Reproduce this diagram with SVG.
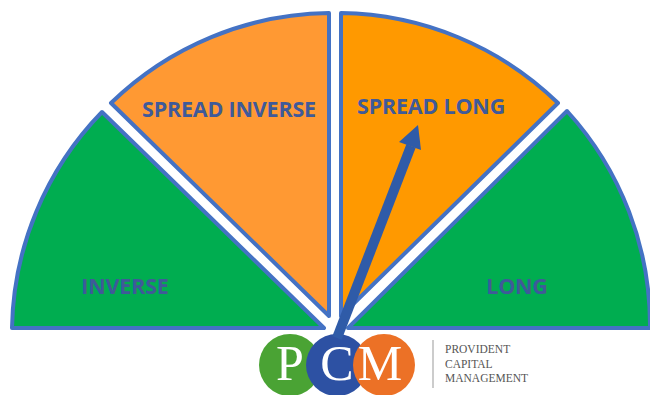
<svg xmlns="http://www.w3.org/2000/svg" width="650" height="395" viewBox="0 0 650 395">
<style>
.w{stroke:#4472c4;stroke-width:4;stroke-linejoin:round}
.l{font-family:"Open Sans","Liberation Sans",sans-serif;font-weight:700;font-size:21.500px;letter-spacing:-.2px;fill:#3f5a99;text-anchor:middle}
.b{font-family:"Liberation Serif",serif;font-size:50px;fill:#fff;text-anchor:middle}
.s{font-family:"Liberation Serif",serif;font-size:11.500px;fill:#555}
</style>
<rect width="650" height="395" fill="#fff"/>
<g id="inverse"><path class="w" fill="#00ad50" d="M12 328A318 318 0 0 1 102 112L324 328Z"/><text class="l" x="125" y="294">INVERSE</text></g>
<g id="spread-inverse"><path class="w" fill="#ff9933" d="M111 103A318 318 0 0 1 329 13V316Z"/><text class="l" x="229" y="117">SPREAD INVERSE</text></g>
<g id="spread-long"><path class="w" fill="#ff9900" d="M341 13A318 318 0 0 1 558 103L341 316Z"/><text class="l" x="431" y="114">SPREAD LONG</text></g>
<g id="long"><path class="w" fill="#00ad50" d="M567 111A318 318 0 0 1 650 328H348Z"/><text class="l" x="517" y="294">LONG</text></g>
<g id="logo">
<circle cx="290" cy="365" r="31" fill="#4aa334"/>
<circle cx="337" cy="365" r="31" fill="#2d51a3"/>
<circle cx="384" cy="365" r="31" fill="#ec7126"/>
<text class="b" x="290" y="380">P</text><text class="b" x="337" y="380">C</text><text class="b" x="380" y="380">M</text>
<line x1="433" y1="340" x2="433" y2="388" stroke="#999"/>
<text class="s" x="445" y="353">PROVIDENT</text><text class="s" x="445" y="367.500">CAPITAL</text><text class="s" x="445" y="381.500">MANAGEMENT</text>
</g>
<g id="connectors"><path d="M337 338L411 146" stroke="#2f5ba8" stroke-width="10" fill="none"/><polygon points="418,125 399,142 421,150" fill="#2f5ba8"/></g>
</svg>
